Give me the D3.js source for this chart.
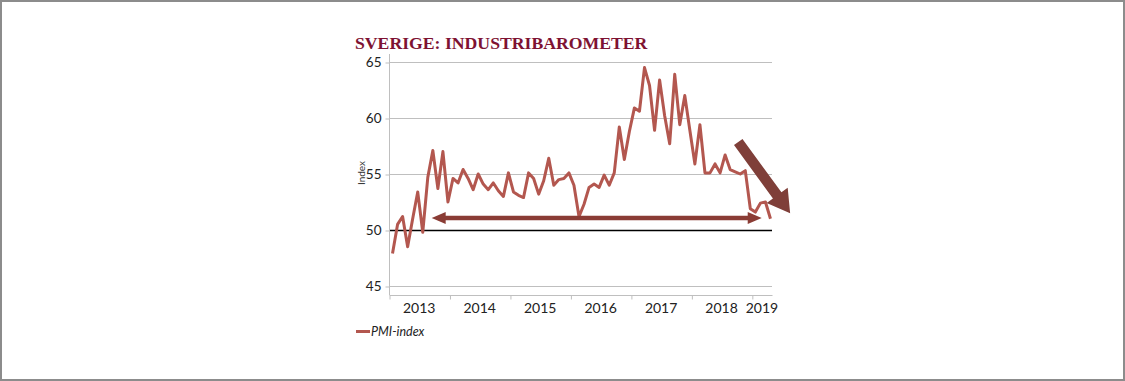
<!DOCTYPE html>
<html><head><meta charset="utf-8">
<script src="https://cdn.jsdelivr.net/npm/d3@7"></script>
<style>body{margin:0;background:#fff;}svg{display:block;}</style>
</head><body>
<script>
// ---- data ----
const title = "SVERIGE: INDUSTRIBAROMETER";
const seriesName = "PMI-index";
const yLabel = "Index";
const startYear = 2013;
const monthsCount = 76; // Jan 2013 .. Apr 2019
const pmi = [47.9,50.5,51.2,48.5,51.0,53.4,49.8,54.7,57.1,53.7,57.0,52.5,
             54.6,54.2,55.4,54.6,53.6,55.0,54.1,53.6,54.2,53.5,53.0,55.1,
             53.4,53.1,52.9,55.1,54.6,53.2,54.4,56.4,54.0,54.5,54.6,55.1,
             54.0,51.2,52.3,53.8,54.1,53.8,54.9,54.0,55.1,59.2,56.3,58.8,
             60.9,60.6,64.5,62.9,58.9,63.4,60.2,57.7,63.9,59.4,62.0,58.9,
             55.9,59.4,55.1,55.1,55.9,55.1,56.7,55.4,55.2,55.0,55.3,51.9,
             51.6,52.4,52.5,51.0];
const yTicks = [45,50,55,60,65];
const yearLabels = ["2013","2014","2015","2016","2017","2018","2019"];
// annotation arrows in data units (month index, value)
const flatArrow = {from:[8.47,51.07], to:[73.96,51.07]};
const downArrow = {from:[69.3,57.86], to:[79.6,51.5]};

const W=1125,H=381;
const svg=d3.select("body").append("svg").attr("width",W).attr("height",H);
svg.append("rect").attr("x",1).attr("y",1).attr("width",W-2).attr("height",H-2)
  .attr("fill","#fff").attr("stroke","#8c8c8c").attr("stroke-width",2);

const x=d3.scaleLinear().domain([0,monthsCount]).range([389,772]);
const y=d3.scaleLinear().domain([45,65]).range([286,62]);
const axisY = 295;
const lineColor="#b3574f";
const arrowColor="#8a3c35";
const font="Lato, 'Open Sans', sans-serif";

// title
svg.append("text").attr("x",355).attr("y",49).text(title)
  .attr("font-family","'Liberation Serif', 'DejaVu Serif', serif")
  .attr("font-weight","bold").attr("font-size",17.7).attr("fill","#7e1232");

// gridlines
svg.append("g").selectAll("line").data(yTicks).join("line")
  .attr("x1",x(0)).attr("x2",x(monthsCount))
  .attr("y1",d=>y(d)+0.5).attr("y2",d=>y(d)+0.5)
  .attr("stroke",d=>d===50?"#000":"#bfbfbf").attr("stroke-width",d=>d===50?1.3:1);

// y axis
const yAxis=d3.axisLeft(y).tickValues(yTicks).tickSize(4).tickPadding(4);
const gy=svg.append("g").attr("transform",`translate(${x(0)+0.5},0.5)`).call(yAxis);
gy.select(".domain").remove();
gy.selectAll(".tick line").attr("stroke","#bfbfbf");
gy.selectAll(".tick text").attr("font-family",font).attr("font-size",13.5).attr("fill","#222");
svg.append("line").attr("x1",x(0)+0.5).attr("x2",x(0)+0.5).attr("y1",54).attr("y2",axisY)
  .attr("stroke","#bfbfbf");

// x axis
const yearTicks=d3.range(0,monthsCount,12);
const xAxis=d3.axisBottom(x).tickValues(yearTicks).tickSize(4).tickFormat("");
const gx=svg.append("g").attr("transform",`translate(0.5,${axisY+0.5})`).call(xAxis);
gx.select(".domain").attr("stroke","#bfbfbf").attr("d",`M${x(0)},0H${x(monthsCount)}`);
gx.selectAll(".tick line").attr("stroke","#bfbfbf");
svg.append("g").selectAll("text").data(yearLabels).join("text")
  .attr("x",(d,i)=>{const s=i*12,e=Math.min(monthsCount,s+12);return x((s+e)/2);})
  .attr("y",313).attr("text-anchor","middle").text(d=>d)
  .attr("font-family",font).attr("font-size",14).attr("fill","#222");

// y label
svg.append("text").attr("transform",`translate(365,173) rotate(-90)`)
  .attr("text-anchor","middle").text(yLabel)
  .attr("font-family",font).attr("font-size",10).attr("fill","#333");

// line
const line=d3.line().x((d,i)=>x(i+0.5)+1).y(d=>y(d)).curve(d3.curveLinear);
svg.append("path").datum(pmi).attr("d",line).attr("fill","none")
  .attr("stroke",lineColor).attr("stroke-width",3).attr("stroke-linejoin","round");

// arrows
function arrowPoly(p0,p1,shaft,headLen,headHalf,double){
  const dx=p1[0]-p0[0],dy=p1[1]-p0[1],L=Math.hypot(dx,dy);
  const ux=dx/L,uy=dy/L,nx=-uy,ny=ux;
  const P=(t,s)=>[p0[0]+ux*t+nx*s,p0[1]+uy*t+ny*s];
  const pts=[];
  if(double){
    pts.push(P(0,0),P(headLen,-headHalf),P(headLen,-shaft/2));
  } else {
    pts.push(P(0,-shaft/2));
  }
  pts.push(P(L-headLen,-shaft/2),P(L-headLen,-headHalf),P(L,0),P(L-headLen,headHalf),P(L-headLen,shaft/2));
  if(double){pts.push(P(headLen,shaft/2),P(headLen,headHalf));}
  else pts.push(P(0,shaft/2));
  return pts;
}
const fa=[ [x(flatArrow.from[0]),y(flatArrow.from[1])],[x(flatArrow.to[0]),y(flatArrow.to[1])] ];
svg.append("polygon").attr("points",arrowPoly(fa[0],fa[1],4.5,14,6,true).map(p=>p.join(",")).join(" "))
  .attr("fill",arrowColor);
const da=[ [x(downArrow.from[0]),y(downArrow.from[1])],[x(downArrow.to[0]),y(downArrow.to[1])] ];
svg.append("polygon").attr("points",arrowPoly(da[0],da[1],10.5,22,13,false).map(p=>p.join(",")).join(" "))
  .attr("fill","#7f3f39");

// legend
svg.append("line").attr("x1",356).attr("x2",370).attr("y1",331.5).attr("y2",331.5)
  .attr("stroke",lineColor).attr("stroke-width",3);
svg.append("text").attr("x",371).attr("y",336).text(seriesName)
  .attr("font-family",font).attr("font-style","italic").attr("font-size",12.5).attr("fill","#222");
</script>
</body></html>
